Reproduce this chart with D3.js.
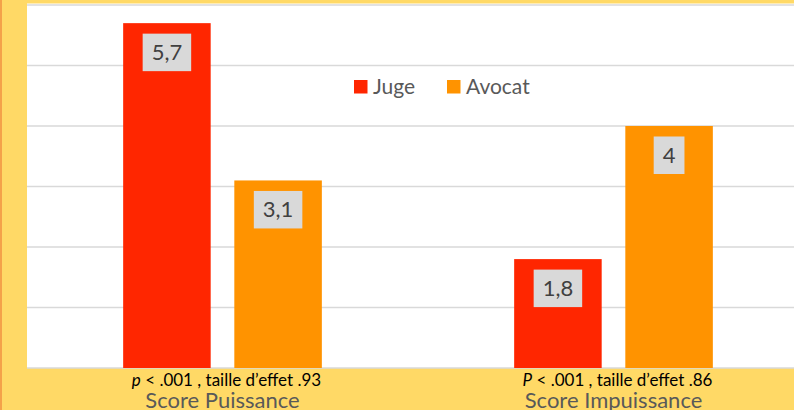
<!DOCTYPE html>
<html>
<head>
<meta charset="utf-8">
<script src="https://cdn.jsdelivr.net/npm/d3@7"></script>
<style>
  body { margin: 0; background: #FFD966; }
  svg { display: block; }
</style>
</head>
<body>
<div id="chart"></div>
<script>
// Data
const categories = ["Score Puissance", "Score Impuissance"];
const stats = ["p < .001 , taille d\u2019effet .93", "P < .001 , taille d\u2019effet .86"];
const series = ["Juge", "Avocat"];
const juge = [5.7, 1.8];
const avocat = [3.1, 4];
const yTicks = [0, 1, 2, 3, 4, 5, 6];

let width = 794, height = 410;
let margin = { top: 5, bottom: 42, left: 27, right: -15 };

const color = d3.scaleOrdinal()
  .domain(series)
  .range(["#FF2600", "#FF9300"]);

const data = [];
categories.forEach((c, i) => {
  data.push({ cat: c, type: "Juge", value: juge[i] });
  data.push({ cat: c, type: "Avocat", value: avocat[i] });
});

let svg = d3.select('#chart')
  .append('svg')
  .attr('width', width)
  .attr('height', height)
  .style('font-family', 'Lato, "Open Sans", sans-serif');

// background + left border
svg.append('rect')
  .attr('width', width).attr('height', height)
  .attr('fill', '#FFD966');
svg.append('rect')
  .attr('x', 0).attr('y', 0).attr('width', 2).attr('height', height)
  .attr('fill', '#F4A24A');

// Scales
const x0 = d3.scaleBand()
  .domain(categories)
  .range([margin.left, width - margin.right])
  .padding(0);

const x1 = d3.scaleBand()
  .domain(series)
  .range([0, x0.bandwidth()])
  .paddingInner(0.2126)
  .paddingOuter(0.865);

const y = d3.scaleLinear()
  .domain([0, 6])
  .range([height - margin.bottom, margin.top]);

// plot area
svg.append('rect')
  .attr('x', margin.left)
  .attr('y', margin.top - 1.5)
  .attr('width', width - margin.left)
  .attr('height', y(0) - margin.top + 1.5)
  .attr('fill', 'white');

// gridlines
svg.append('g')
  .selectAll('line')
  .data(yTicks)
  .enter()
  .append('line')
  .attr('x1', margin.left)
  .attr('x2', width)
  .attr('y1', d => y(d))
  .attr('y2', d => y(d))
  .attr('stroke', '#D9D9D9')
  .attr('stroke-width', 1.5);

// bars
const groups = svg.selectAll('.grp')
  .data(data)
  .enter()
  .append('g')
  .attr('transform', d => `translate(${x0(d.cat)},0)`);

groups.append('rect')
  .attr('x', d => x1(d.type))
  .attr('y', d => y(d.value))
  .attr('width', x1.bandwidth())
  .attr('height', d => y(0) - y(d.value))
  .attr('fill', d => color(d.type));

// data labels
const fmt = d => String(d).replace('.', ',');
groups.each(function(d) {
  const g = d3.select(this);
  const cx = x1(d.type) + x1.bandwidth() / 2;
  const txt = g.append('text')
    .attr('x', cx)
    .attr('y', y(d.value) + 37)
    .attr('text-anchor', 'middle')
    .attr('font-size', 22)
    .attr('fill', '#404040')
    .text(fmt(d.value));
  const w = txt.node().getComputedTextLength();
  g.insert('rect', 'text')
    .attr('x', cx - w / 2 - 9)
    .attr('y', y(d.value) + 10.5)
    .attr('width', w + 18)
    .attr('height', 37.5)
    .attr('fill', '#D9D9D9');
});

// x axis: category names
const xaxis = svg.append('g')
  .attr('transform', `translate(0,${y(0)})`)
  .call(d3.axisBottom(x0).tickSize(0).tickPadding(0));
xaxis.select('.domain').remove();
xaxis.selectAll('text')
  .attr('y', 39.5)
  .attr('dy', null)
  .attr('font-family', 'Lato, "Open Sans", sans-serif')
  .attr('font-size', 22)
  .attr('fill', '#595959');

// statistics line above each category name
categories.forEach((c, i) => {
  const t = svg.append('text')
    .attr('x', x0(c) + x0.bandwidth() / 2 + 4)
    .attr('y', y(0) + 17.5)
    .attr('text-anchor', 'middle')
    .attr('font-size', 17)
    .attr('fill', '#000');
  t.append('tspan').attr('font-style', 'italic').text(stats[i][0]);
  t.append('tspan').text(stats[i].slice(1));
});

// legend
const legend = svg.append('g');
const legX = [354, 447];
series.forEach((s, i) => {
  legend.append('rect')
    .attr('x', legX[i])
    .attr('y', 80)
    .attr('width', 13.5)
    .attr('height', 13.5)
    .attr('fill', color(s));
  legend.append('text')
    .attr('x', legX[i] + 19)
    .attr('y', 93.5)
    .attr('font-size', 21)
    .attr('fill', '#595959')
    .text(s);
});
</script>
</body>
</html>
